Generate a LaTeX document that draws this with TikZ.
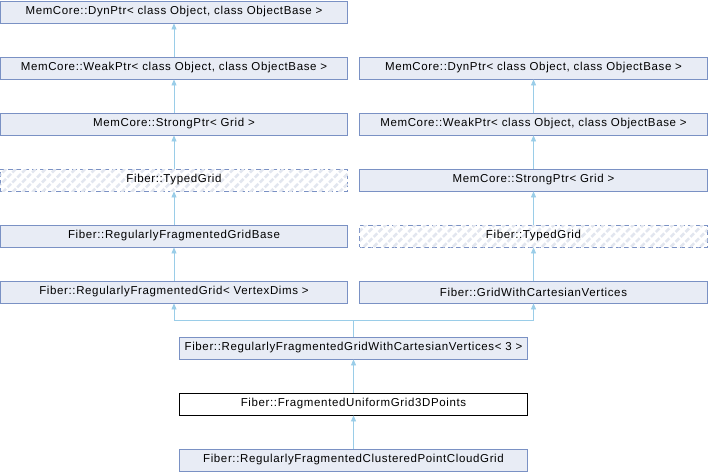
\documentclass[tikz,border=0pt]{standalone}
\usepackage{fontspec}
\setmainfont{Liberation Sans}[LetterSpace=5.5]
\usetikzlibrary{arrows.meta,patterns.meta}
\definecolor{boxfill}{HTML}{E8ECF5}
\definecolor{boxline}{HTML}{7A91C4}
\definecolor{edgecol}{HTML}{9ACDE8}
\definecolor{hatch}{HTML}{E2E6EF}
\begin{document}
\begin{tikzpicture}[x=1pt,y=-1pt,
  cls/.style={draw=boxline,fill=boxfill,line width=0.8pt,minimum width=347.5pt,minimum height=22pt,inner sep=0pt,font=\fontsize{11.5}{14}\selectfont},
  cur/.style={cls,draw=black,fill=white},
  undoc/.style={cls,fill=white,dashed,dash pattern=on 5pt off 3pt,postaction={pattern={Lines[angle=45,distance=7pt,line width=2.5pt]},pattern color=hatch}},
  edge/.style={draw=edgecol,line width=0.8pt,-{Triangle[width=5pt,length=6pt]}}]
\useasboundingbox (0,0) rectangle (708,472);
\node[cls] (l1) at (174,12) {MemCore::DynPtr< class Object, class ObjectBase >};
\node[cls] (l2) at (174,68) {MemCore::WeakPtr< class Object, class ObjectBase >};
\node[cls] (l3) at (174,124) {MemCore::StrongPtr< Grid >};
\node[undoc] (l4) at (174,180) {Fiber::TypedGrid};
\node[cls] (l5) at (174,236) {Fiber::RegularlyFragmentedGridBase};
\node[cls] (l6) at (174,292) {Fiber::RegularlyFragmentedGrid< VertexDims >};
\node[cls] (r2) at (533.5,68) {MemCore::DynPtr< class Object, class ObjectBase >};
\node[cls] (r3) at (533.5,124) {MemCore::WeakPtr< class Object, class ObjectBase >};
\node[cls] (r4) at (533.5,180) {MemCore::StrongPtr< Grid >};
\node[undoc] (r5) at (533.5,236) {Fiber::TypedGrid};
\node[cls] (r6) at (533.5,292) {Fiber::GridWithCartesianVertices};
\node[cls] (c7) at (353.5,348) {Fiber::RegularlyFragmentedGridWithCartesianVertices< 3 >};
\node[cur] (c8) at (353.5,404) {Fiber::FragmentedUniformGrid3DPoints};
\node[cls] (c9) at (353.5,460) {Fiber::RegularlyFragmentedClusteredPointCloudGrid};
\draw[edge] (l2) -- (l1);
\draw[edge] (l3) -- (l2);
\draw[edge] (l4) -- (l3);
\draw[edge] (l5) -- (l4);
\draw[edge] (l6) -- (l5);
\draw[edge] (r3) -- (r2);
\draw[edge] (r4) -- (r3);
\draw[edge] (r5) -- (r4);
\draw[edge] (r6) -- (r5);
\coordinate (m) at (353.5,320);
\draw[edge] (c7.north) -- (m) -| (l6.south);
\draw[edge] (c7.north) -- (m) -| (r6.south);
\draw[edge] (c9) -- (c8);
\draw[edge] (c8) -- (c7);
\end{tikzpicture}
\end{document}
